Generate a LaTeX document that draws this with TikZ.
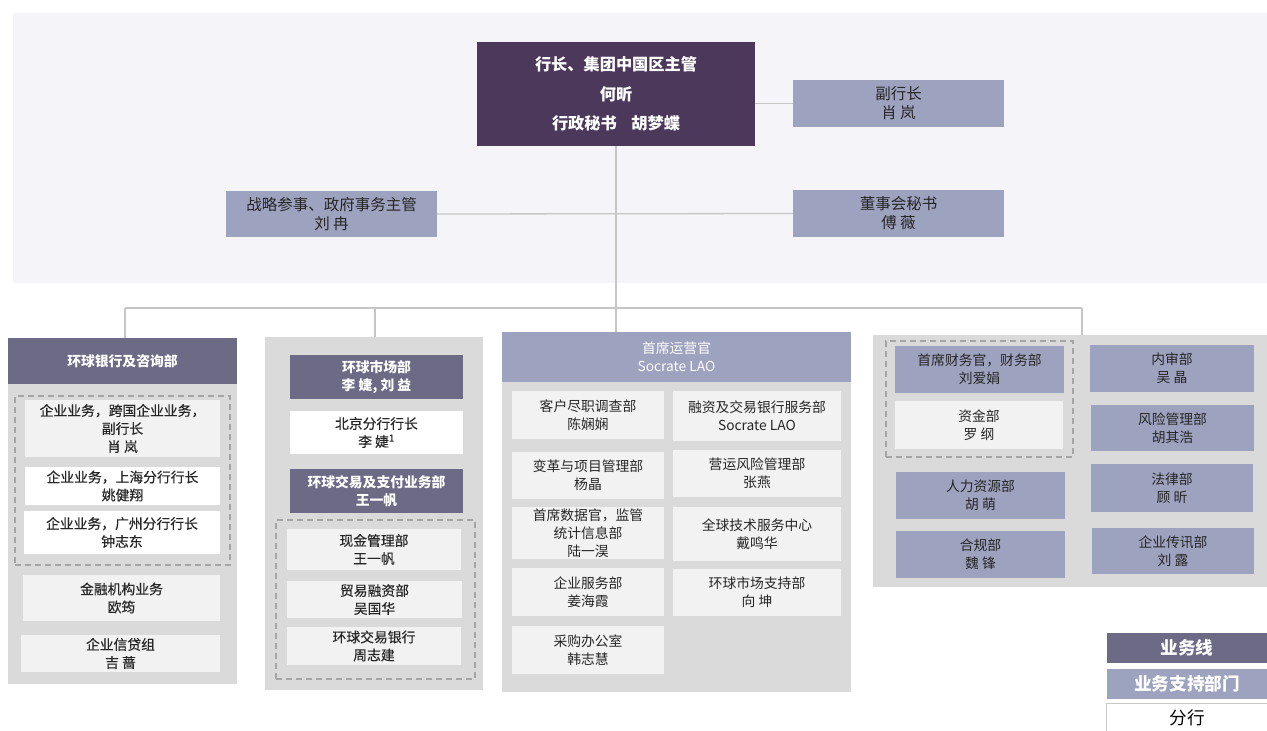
\documentclass[tikz,border=0pt]{standalone}
\usepackage{fontspec}
\setmainfont{Noto Sans CJK SC}
\newfontfamily\medfont[FakeBold=0.35]{Noto Sans CJK SC}
\definecolor{topbg}{HTML}{F5F4F8}
\definecolor{ceoc}{HTML}{4B385B}
\definecolor{dkc}{HTML}{6D6A86}
\definecolor{lavc}{HTML}{9DA2BE}
\definecolor{gbg}{HTML}{DADADA}
\definecolor{ltc}{HTML}{F2F2F2}
\definecolor{lnc}{HTML}{C6C6C6}
\definecolor{dashc}{HTML}{A5A5A5}
\definecolor{txt}{HTML}{262626}
\newcommand\fsA{\fontsize{13.8}{18}\selectfont}
\newcommand\fsB{\fontsize{15.5}{19}\selectfont}
\newcommand\fsC{\fontsize{16.2}{29.5}\selectfont}
\newcommand\fsL{\fontsize{17.6}{20}\selectfont}
\newcommand\BX[7]{\node[#6, minimum width={#4-#2}, minimum height={#5-#3}] (#1) at ({(#2+#4)/2},{-(#3+#5)/2}) {#7};}
\tikzset{
  box/.style={inner sep=0pt, align=center, font=\fsA, text=txt},
  ltbox/.style={box, fill=ltc},
  wtbox/.style={box, fill=white},
  medtext/.style={font=\fsA\medfont},
  lavbox/.style={box, fill=lavc},
  dkbox/.style={box, fill=dkc, text=white, font=\fsA\bfseries},
  colbg/.style={inner sep=0pt, fill=gbg},
  grpbox/.style={draw=dashc, line width=1.8pt, dash pattern=on 6pt off 4pt, inner sep=0pt},
  conn/.style={draw=lnc, line width=1.3pt},
}
\begin{document}
\begin{tikzpicture}[x=1pt,y=1pt]
\useasboundingbox (0,0) rectangle (1267,-731);
% top area
\fill[topbg] (13,-13) rectangle (1267,-283);
\BX{ceo}{477}{42}{755}{146}{box, fill=ceoc, text=white, font=\fsC\bfseries}{行长、集团中国区主管\\何昕\\行政秘书\hspace{0.9em}胡梦蝶}
\BX{vp}{793}{80}{1004}{127}{lavbox, font=\fsB}{副行长\\肖 岚}
\BX{strat}{226}{191}{437}{237}{lavbox, font=\fsB}{战略参事、政府事务主管\\刘 冉}
\BX{board}{793}{190}{1004}{237}{lavbox, font=\fsB}{董事会秘书\\傅 薇}
% column 1
\BX{c1}{8}{338}{237}{684}{colbg}{}
\BX{h1}{8}{338}{237}{384}{dkbox}{环球银行及咨询部}
\BX{g1}{15}{396}{230}{565}{grpbox}{}
\BX{a1}{25}{400}{220}{457}{ltbox, medtext}{企业业务，跨国企业业务，\\副行长\\肖 岚}
\BX{a2}{25}{467}{220}{505}{wtbox, medtext}{企业业务，上海分行行长\\姚健翔}
\BX{a3}{24}{511}{220}{554}{wtbox, medtext}{企业业务，广州分行行长\\钟志东}
\BX{a4}{23}{575}{220}{621}{ltbox, medtext}{金融机构业务\\欧筠}
\BX{a5}{21}{635}{220}{672}{ltbox, medtext}{企业信贷组\\吉 蔷}
% column 2
\BX{c2}{265}{337}{483}{690}{colbg}{}
\BX{h2}{290}{355}{463}{399}{dkbox}{环球市场部\\李 婕, 刘 益}
\BX{b1}{290}{411}{463}{454}{wtbox, medtext}{北京分行行长\\李 婕\textsuperscript{1}}
\BX{h3}{290}{469}{463}{513}{dkbox}{环球交易及支付业务部\\王一帆}
\BX{g2}{276}{520}{475}{679}{grpbox}{}
\BX{b2}{287}{529}{461}{570}{ltbox, medtext}{现金管理部\\王一帆}
\BX{b3}{287}{581}{462}{618}{ltbox, medtext}{贸易融资部\\吴国华}
\BX{b4}{287}{627}{461}{665}{ltbox, medtext}{环球交易银行\\周志建}
% column 3
\BX{c3}{502}{332}{851}{692}{colbg}{}
\BX{h4}{502}{332}{851}{382}{lavbox, text=white}{首席运营官\\Socrate LAO}
\BX{d1}{512}{391}{664}{439}{ltbox}{客户尽职调查部\\陈娴娴}
\BX{d2}{673}{391}{841}{441}{ltbox}{融资及交易银行服务部\\Socrate LAO}
\BX{d3}{512}{452}{664}{499}{ltbox}{变革与项目管理部\\杨晶}
\BX{d4}{673}{450}{841}{497}{ltbox}{营运风险管理部\\张燕}
\BX{d5}{512}{507}{664}{559}{ltbox}{首席数据官，监管\\统计信息部\\陆一淏}
\BX{d6}{673}{507}{841}{561}{ltbox}{全球技术服务中心\\戴鸣华}
\BX{d7}{512}{568}{664}{616}{ltbox}{企业服务部\\姜海霞}
\BX{d8}{673}{569}{841}{616}{ltbox}{环球市场支持部\\向 坤}
\BX{d9}{512}{626}{664}{674}{ltbox}{采购办公室\\韩志慧}
% column 4
\BX{c4}{873}{335}{1267}{587}{colbg}{}
\BX{g4}{886}{341}{1073}{457}{grpbox}{}
\BX{e1}{895}{346}{1064}{393}{lavbox}{首席财务官，财务部\\刘爱娟}
\BX{e2}{895}{401}{1063}{449}{ltbox}{资金部\\罗 纲}
\BX{e3}{896}{472}{1065}{519}{lavbox}{人力资源部\\胡 萌}
\BX{e4}{896}{531}{1065}{578}{lavbox}{合规部\\魏 锋}
\BX{f1}{1090}{345}{1254}{392}{lavbox}{内审部\\吴 晶}
\BX{f2}{1091}{405}{1254}{451}{lavbox}{风险管理部\\胡其浩}
\BX{f3}{1091}{464}{1253}{512}{lavbox}{法律部\\顾 昕}
\BX{f4}{1092}{528}{1254}{574}{lavbox}{企业传讯部\\刘 露}
% legend
\BX{l1}{1107}{633}{1267}{663}{dkbox, font=\fsL\bfseries}{业务线}
\BX{l2}{1107}{669}{1267}{699}{lavbox, text=white, font=\fsL\bfseries}{业务支持部门}
\BX{l3}{1107}{704}{1267}{731}{wtbox, font=\fsL, text=black}{分行}
\draw[lnc, line width=1.2pt] (l3.south west) -- (l3.north west) -- (l3.north east);
% connectors
\coordinate (bl) at (125,-308);
\coordinate (br) at (1082,-308);
\draw[conn] (ceo.east |- vp.west) -- (vp.west);
\draw[conn] (strat.east) -- (board.west);
\draw[conn] (ceo.south) -- (ceo.south |- c3.north);
\draw[conn] (bl) -- (br);
\draw[conn] (bl) -- (bl |- c1.north);
\draw[conn] (c2.north -| 375,0) -- (375,-308);
\draw[conn] (br) -- (br |- c4.north);
\end{tikzpicture}
\end{document}
